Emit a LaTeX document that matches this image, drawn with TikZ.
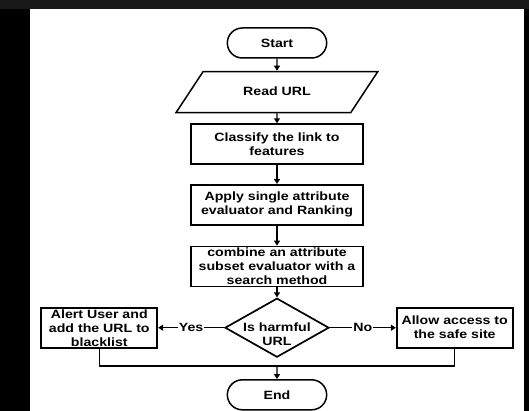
\documentclass[tikz,border=0pt]{standalone}
\usepackage{fontspec}
\setmainfont{Liberation Sans}[FakeStretch=1.18]
\usetikzlibrary{
        arrows.meta,
        positioning,
        shapes.geometric,
        shapes.misc
    }
\tikzset{>={Triangle[length=5pt,width=6pt]},node distance=12pt}
\tikzset{every node/.style={font=\fontsize{12}{14}\selectfont\bfseries}}
\tikzset{terminal/.style={draw,rounded rectangle,line width=1.5pt,minimum width=106pt,minimum height=30pt}}
\tikzset{inout/.style={draw,trapezium,trapezium left angle=56.6,trapezium right angle=123.4,line width=1.5pt,text height=9pt,text depth=3pt,inner xsep=40pt,inner ysep=14.5pt}}
\tikzset{process/.style={draw,rectangle,line width=1.7pt,minimum width=172pt,minimum height=40pt,align=center,inner sep=0pt}}
\tikzset{decision/.style={draw,diamond,line width=1.7pt,minimum width=104pt,minimum height=59pt,inner sep=0pt}}
\tikzset{flow/.style={line width=1.3pt}}
\tikzset{answer/.style={fill=white,inner sep=1pt}}

\begin{document}
\begin{tikzpicture}[x=1pt,y=1pt]
            % screenshot frame
            \fill[black!90] (0,0) rectangle (529,-9);
            \fill[black] (0,-9) rectangle (30,-411);
            \fill[white] (30,-9) rectangle (524,-411);
            \fill[black] (524,-9) rectangle (529,-411);
            \useasboundingbox (0,0) rectangle (529,-411);

            \node[terminal] (start) at (277,-43) {Start};
            \node[inout] (read) [below=12pt of start] {Read URL};
            \node[process] (classify) [below=10pt of read] {Classify the link to\\features};
            \node[process] (rank) [below=19pt of classify] {Apply single attribute\\evaluator and Ranking};
            \node[process] (subset) [below=20pt of rank] {combine an attribute\\subset evaluator with a\\search method};
            \node[decision] (harm) [below=10pt of subset] {\makebox[0pt]{\smash{\raisebox{-4pt}{\begin{tabular}[t]{@{}c@{}}Is harmful\\URL\end{tabular}}}}};
            \node[process][minimum width=116pt] (alert) [left=66pt of harm] {Alert User and\\add the URL to\\blacklist};
            \node[process][minimum width=116pt] (allow) [right=66pt of harm] {Allow access to\\the safe site};
            \coordinate[below=8pt of harm] (join);
            \node[terminal] (end) [below=13pt of join] {End};
            \path[->,flow]
                (start) edge (read)
                (read) edge (classify)
                (classify) edge (rank)
                (rank) edge (subset)
                (subset) edge (harm)
                (harm) edge node[answer] {Yes} (alert)
                (harm) edge node[answer] {No} (allow)
                (join) edge (end)
            ;
            \draw[flow] (alert) |- (join) -| (allow);
        \end{tikzpicture}
\end{document}
